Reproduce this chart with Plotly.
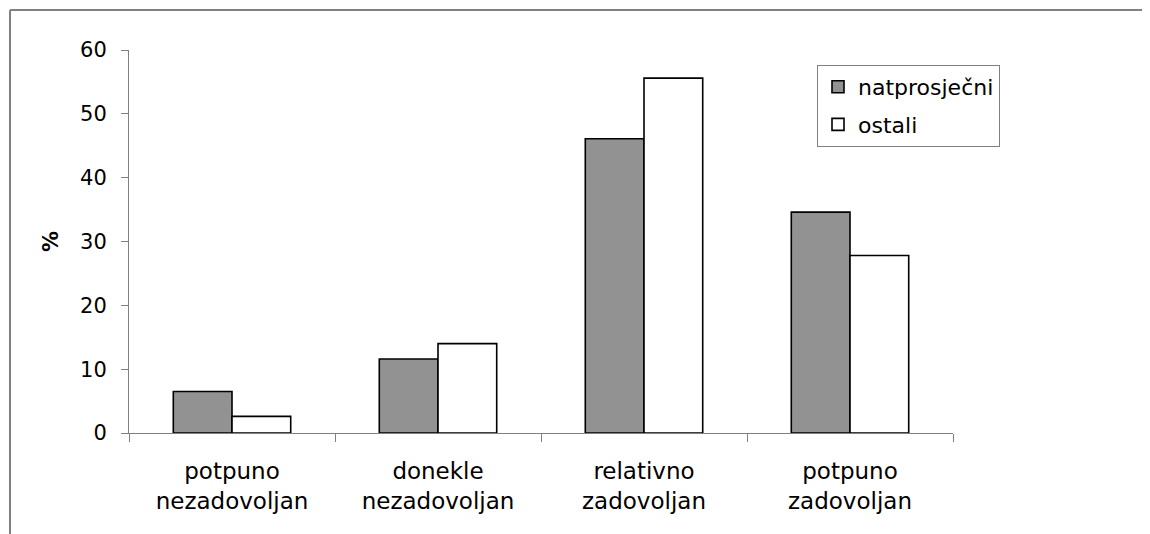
import plotly.graph_objects as go

# Satisfaction by group, in percent.
categories = [
    "potpuno<br>nezadovoljan",
    "donekle<br>nezadovoljan",
    "relativno<br>zadovoljan",
    "potpuno<br>zadovoljan",
]
natprosjecni = [6.5, 11.6, 46.1, 34.6]
ostali = [2.6, 14.0, 55.6, 27.8]
y_ticks = [0, 10, 20, 30, 40, 50, 60]

FONT = "DejaVu Sans"
AXIS_GREY = "#808080"
BAR_GREY = "#929292"

# the page body adds an 8px margin, so everything is laid out 8px up/left
OFF = 8
W, H = 1150 - OFF, 534 - OFF
# plot area in pixels (screen coords minus the body offset)
L, R, T, B = 129 - OFF, 953 - OFF, 50 - OFF, 433 - OFF
pw, ph = R - L, B - T

fig = go.Figure()
fig.add_trace(
    go.Bar(
        x=categories,
        y=natprosjecni,
        name="natprosječni",
        legendgroup="a",
        marker={"color": BAR_GREY, "line": {"color": "#000000", "width": 1.6}},
    )
)
fig.add_trace(
    go.Bar(
        x=categories,
        y=ostali,
        name="ostali",
        legendgroup="b",
        marker={"color": "#ffffff", "line": {"color": "#000000", "width": 1.6}},
    )
)

fig.update_layout(
    width=W,
    height=H,
    margin={"l": L, "r": W - R, "t": T, "b": H - B, "pad": 0},
    paper_bgcolor="#ffffff",
    plot_bgcolor="#ffffff",
    barmode="group",
    bargap=0.43,
    bargroupgap=0,
    font={"family": FONT, "color": "#000000"},
    legend={
        "x": (817 - OFF - L) / pw,
        "y": (B - (65 - OFF)) / ph,
        "xanchor": "left",
        "yanchor": "top",
        "bordercolor": AXIS_GREY,
        "borderwidth": 1,
        "bgcolor": "#ffffff",
        "font": {"size": 22, "family": FONT},
        "traceorder": "grouped",
        "tracegroupgap": 6,
        "itemwidth": 30,
    },
    showlegend=True,
)

fig.update_xaxes(
    showline=True,
    linecolor=AXIS_GREY,
    linewidth=1,
    ticks="outside",
    tickson="boundaries",
    ticklen=8,
    tickcolor=AXIS_GREY,
    tickfont={"size": 23, "family": FONT},
    ticklabelstandoff=17,
    showgrid=False,
    zeroline=False,
)
fig.update_yaxes(
    range=[0, 60],
    tickvals=y_ticks,
    showline=True,
    linecolor=AXIS_GREY,
    linewidth=1,
    ticks="outside",
    ticklen=7,
    tickcolor=AXIS_GREY,
    tickfont={"size": 21, "family": FONT},
    ticklabelstandoff=10,
    showgrid=False,
    zeroline=False,
    title={"text": "<b>%</b>", "font": {"size": 21, "family": FONT}, "standoff": 15},
)

# outer chart frame (top and left edges visible in the crop)
fx0 = (10 - OFF - L) / pw
fy1 = (B - (10 - OFF)) / ph
fig.add_shape(type="line", xref="paper", yref="paper", x0=fx0, x1=(W + 10 - L) / pw,
              y0=fy1, y1=fy1, line={"color": AXIS_GREY, "width": 2})
fig.add_shape(type="line", xref="paper", yref="paper", x0=fx0, x1=fx0,
              y0=fy1, y1=(B - H - 10) / ph, line={"color": AXIS_GREY, "width": 2})

fig.write_html("out.html")
